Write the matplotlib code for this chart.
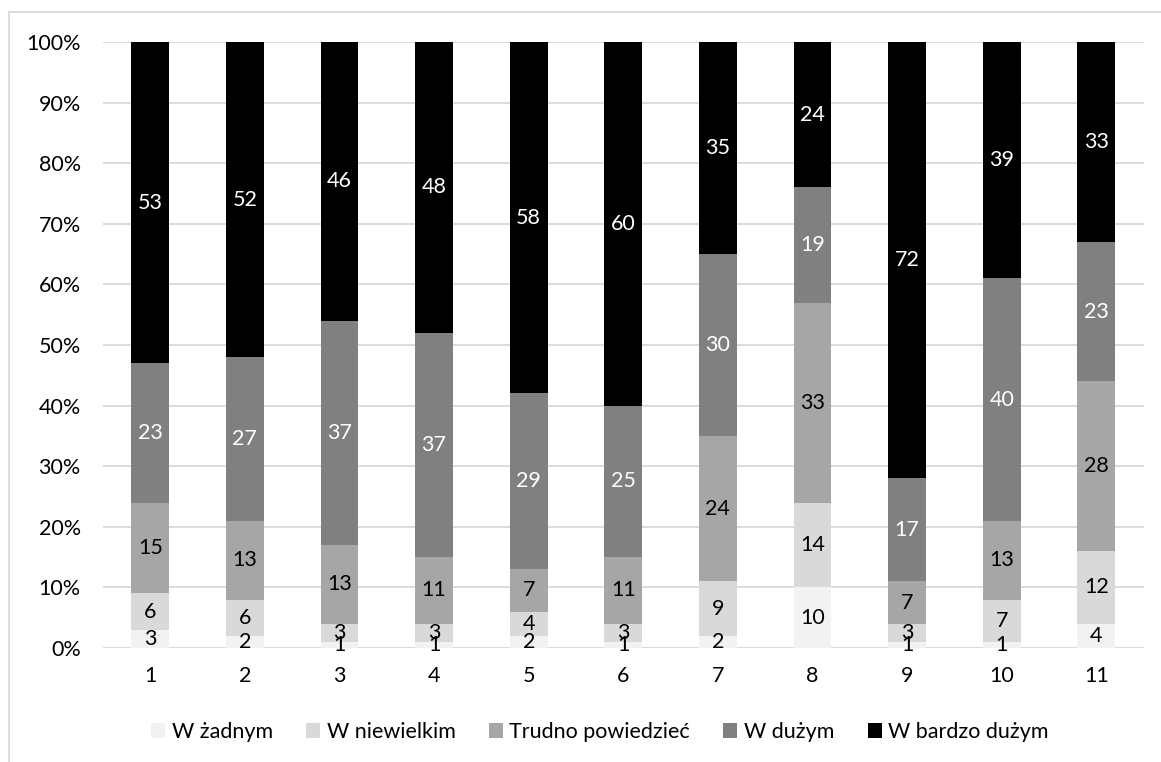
import matplotlib
matplotlib.use("Agg")
import matplotlib.pyplot as plt
from matplotlib.patches import Rectangle
import numpy as np

plt.rcParams['font.family'] = ['Lato', 'DejaVu Sans']

categories = ["1", "2", "3", "4", "5", "6", "7", "8", "9", "10", "11"]
series_names = ["W żadnym", "W niewielkim", "Trudno powiedzieć", "W dużym", "W bardzo dużym"]
w_zadnym = [3, 2, 1, 1, 2, 1, 2, 10, 1, 1, 4]
w_niewielkim = [6, 6, 3, 3, 4, 3, 9, 14, 3, 7, 12]
trudno = [15, 13, 13, 11, 7, 11, 24, 33, 7, 13, 28]
w_duzym = [23, 27, 37, 37, 29, 25, 30, 19, 17, 40, 23]
w_bardzo_duzym = [53, 52, 46, 48, 58, 60, 35, 24, 72, 39, 33]

series = [w_zadnym, w_niewielkim, trudno, w_duzym, w_bardzo_duzym]
colors = ["#F2F2F2", "#D9D9D9", "#A6A6A6", "#808080", "#000000"]
text_colors = ["#000000", "#000000", "#000000", "#FFFFFF", "#FFFFFF"]
FS = 15.5

fig = plt.figure(figsize=(11.61, 7.62), dpi=100)
ax = fig.add_axes([103 / 1161, 1 - 648 / 762, (1143.6 - 103) / 1161, (648 - 42) / 762])

# outer chart frame
fig.patches.append(Rectangle((9 / 1161, -0.1), 1.2, 1 - 12 / 762 + 0.1,
                             transform=fig.transFigure, fill=False,
                             edgecolor="#D9D9D9", linewidth=1.3))

x = np.arange(1, len(categories) + 1)
totals = np.sum(series, axis=0)
bottom = np.zeros(len(categories))
for vals, name, col, tcol in zip(series, series_names, colors, text_colors):
    pct = np.array(vals) / totals * 100
    ax.bar(x, pct, width=0.4, bottom=bottom, color=col, label=name, zorder=3)
    for xi, b, p, v in zip(x, bottom, pct, vals):
        ax.text(xi, b + p / 2, str(v), ha="center", va="center",
                color=tcol, fontsize=FS, zorder=4)
    bottom += pct

ax.set_xlim(0.5, len(categories) + 0.5)
ax.set_ylim(0, 100)
ax.set_yticks(np.arange(0, 101, 10))
ax.set_yticklabels([f"{t}%" for t in range(0, 101, 10)])
ax.set_xticks(x)
ax.set_xticklabels(categories)
ax.tick_params(axis="both", length=0, labelsize=FS, colors="#000000")
ax.tick_params(axis="y", pad=16)
ax.tick_params(axis="x", pad=13)
ax.grid(axis="y", color="#D9D9D9", linewidth=1.3, zorder=0)
for s in ax.spines.values():
    s.set_visible(False)

handles, labels = ax.get_legend_handles_labels()
leg = fig.legend(handles, labels, loc="center", bbox_to_anchor=(600 / 1161, 1 - 732 / 762),
                 ncol=5, frameon=False, fontsize=FS, handlelength=0.65,
                 handleheight=0.65, handletextpad=0.3, columnspacing=1.55)

fig.savefig("out.png", dpi=100, facecolor="white")
